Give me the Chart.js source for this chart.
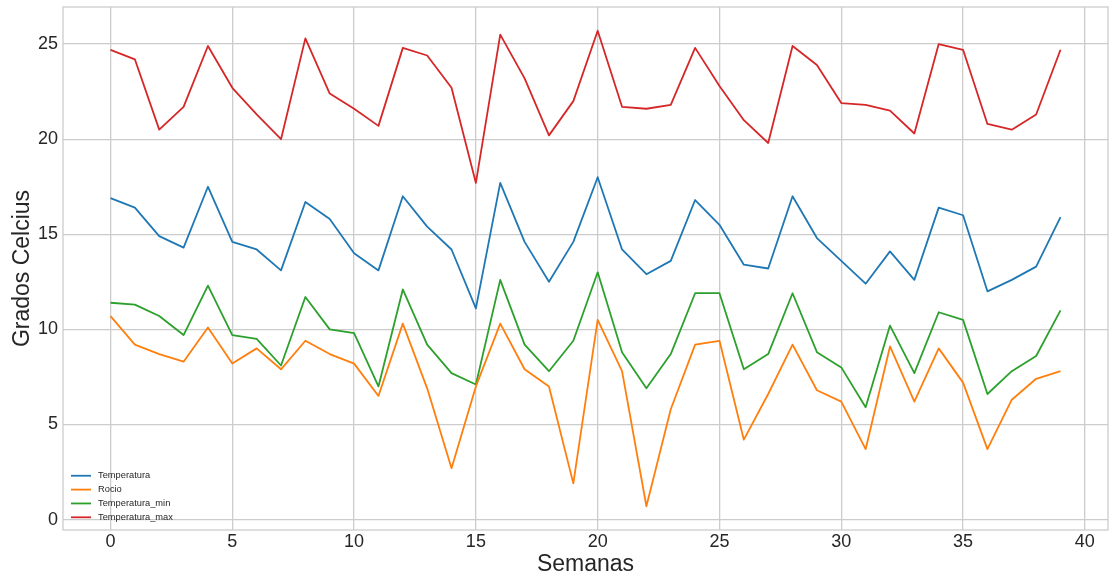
<!DOCTYPE html>
<html>
<head>
<meta charset="utf-8">
<script src="https://cdn.jsdelivr.net/npm/chart.js@4/dist/chart.umd.min.js"></script>
<style>
  html, body { margin: 0; padding: 0; background: #ffffff; }
  #wrap { width: 1115px; height: 582px; }
</style>
</head>
<body>
<div id="wrap"><canvas id="c" width="1115" height="582"></canvas></div>
<script>
// Semanas (eje x)
const semanas = [0, 1, 2, 3, 4, 5, 6, 7, 8, 9, 10, 11, 12, 13, 14, 15, 16, 17, 18, 19,
                 20, 21, 22, 23, 24, 25, 26, 27, 28, 29, 30, 31, 32, 33, 34, 35, 36, 37, 38, 39];

// Series semanales (grados Celcius)
const temperatura = [16.9, 16.4, 14.9, 14.3, 17.5, 14.6, 14.2, 13.1, 16.7, 15.8,
                     14.0, 13.1, 17.0, 15.4, 14.2, 11.1, 17.7, 14.6, 12.5, 14.6,
                     18.0, 14.2, 12.9, 13.6, 16.8, 15.5, 13.4, 13.2, 17.0, 14.8,
                     13.6, 12.4, 14.1, 12.6, 16.4, 16.0, 12.0, 12.6, 13.3, 15.9];

const rocio = [10.7, 9.2, 8.7, 8.3, 10.1, 8.2, 9.0, 7.9, 9.4, 8.7,
               8.2, 6.5, 10.3, 6.9, 2.7, 7.0, 10.3, 7.9, 7.0, 1.9,
               10.5, 7.8, 0.7, 5.8, 9.2, 9.4, 4.2, 6.6, 9.2, 6.8,
               6.2, 3.7, 9.1, 6.2, 9.0, 7.2, 3.7, 6.3, 7.4, 7.8];

const temperaturaMin = [11.4, 11.3, 10.7, 9.7, 12.3, 9.7, 9.5, 8.1, 11.7, 10.0,
                        9.8, 7.0, 12.1, 9.2, 7.7, 7.1, 12.6, 9.2, 7.8, 9.4,
                        13.0, 8.8, 6.9, 8.7, 11.9, 11.9, 7.9, 8.7, 11.9, 8.8,
                        8.0, 5.9, 10.2, 7.7, 10.9, 10.5, 6.6, 7.8, 8.6, 11.0];

const temperaturaMax = [24.7, 24.2, 20.5, 21.7, 24.9, 22.7, 21.3, 20.0, 25.3, 22.4,
                        21.6, 20.7, 24.8, 24.4, 22.7, 17.7, 25.5, 23.2, 20.2, 22.0,
                        25.7, 21.7, 21.6, 21.8, 24.8, 22.8, 21.0, 19.8, 24.9, 23.9,
                        21.9, 21.8, 21.5, 20.3, 25.0, 24.7, 20.8, 20.5, 21.3, 24.7];

const xTicks = [0, 5, 10, 15, 20, 25, 30, 35, 40];
const yTicks = [0, 5, 10, 15, 20, 25];

const FONT = "'Liberation Sans', Arial, sans-serif";
const TEXT = '#262626';
const GRID = '#cccccc';

function puntos(valores) {
  return semanas.map((s, i) => ({ x: s, y: valores[i] }));
}

function serie(label, valores, color) {
  return {
    label: label,
    data: puntos(valores),
    borderColor: color,
    backgroundColor: color,
    borderWidth: 1.8,
    borderJoinStyle: 'round',
    pointRadius: 0,
    pointHoverRadius: 0,
    tension: 0,
    fill: false
  };
}

// Marco del área de trazado (cuatro lados)
const marco = {
  id: 'marco',
  beforeDatasetsDraw(chart) {
    const { ctx, chartArea: a } = chart;
    ctx.save();
    ctx.strokeStyle = GRID;
    ctx.lineWidth = 1.3;
    ctx.strokeRect(a.left, a.top, a.right - a.left, a.bottom - a.top);
    ctx.restore();
  }
};

// Leyenda sin marco en la esquina inferior izquierda
const leyenda = {
  id: 'leyenda',
  afterDatasetsDraw(chart) {
    const { ctx, chartArea: a } = chart;
    const ds = chart.data.datasets;
    const paso = 13.85;
    const x0 = a.left + 8;
    const yUltima = a.bottom - 12.7;
    ctx.save();
    ctx.font = "9.3px " + FONT;
    ctx.textBaseline = 'middle';
    ctx.textAlign = 'left';
    ds.forEach((d, i) => {
      const y = yUltima - (ds.length - 1 - i) * paso;
      ctx.strokeStyle = d.borderColor;
      ctx.lineWidth = 1.8;
      ctx.beginPath();
      ctx.moveTo(x0, y);
      ctx.lineTo(x0 + 20, y);
      ctx.stroke();
      ctx.fillStyle = TEXT;
      ctx.fillText(d.label, x0 + 27, y);
    });
    ctx.restore();
  }
};

new Chart(document.getElementById('c'), {
  type: 'line',
  data: {
    datasets: [
      serie('Temperatura', temperatura, '#1f77b4'),
      serie('Rocio', rocio, '#ff7f0e'),
      serie('Temperatura_min', temperaturaMin, '#2ca02c'),
      serie('Temperatura_max', temperaturaMax, '#d62728')
    ]
  },
  options: {
    responsive: false,
    animation: false,
    devicePixelRatio: 1,
    layout: { padding: { left: 0, top: 7, right: 7, bottom: 0 } },
    plugins: {
      legend: { display: false },
      tooltip: { enabled: false }
    },
    scales: {
      x: {
        type: 'linear',
        min: -1.95,
        max: 40.95,
        afterBuildTicks(scale) { scale.ticks = xTicks.map(v => ({ value: v })); },
        afterFit(scale) {
          scale.height = 52;
          scale.paddingLeft = 0;
          scale.paddingRight = 0;
        },
        grid: { color: GRID, lineWidth: 1.3, drawTicks: false },
        border: { display: false },
        ticks: {
          padding: 1,
          autoSkip: false,
          maxRotation: 0,
          color: TEXT,
          font: { family: FONT, size: 18 },
          callback: v => String(v)
        },
        title: {
          display: true,
          text: 'Semanas',
          color: TEXT,
          font: { family: FONT, size: 23 },
          padding: { top: 0, bottom: 4 }
        }
      },
      y: {
        type: 'linear',
        min: -0.55,
        max: 26.95,
        afterBuildTicks(scale) { scale.ticks = yTicks.map(v => ({ value: v })); },
        afterFit(scale) {
          scale.width = 63;
          scale.paddingTop = 0;
          scale.paddingBottom = 0;
        },
        grid: { color: GRID, lineWidth: 1.3, drawTicks: false },
        border: { display: false },
        ticks: {
          padding: 5,
          autoSkip: false,
          color: TEXT,
          font: { family: FONT, size: 18 },
          callback: v => String(v)
        },
        title: {
          display: true,
          text: 'Grados Celcius',
          color: TEXT,
          font: { family: FONT, size: 23 },
          padding: { top: 9, bottom: 0 }
        }
      }
    }
  },
  plugins: [marco, leyenda]
});
</script>
</body>
</html>
